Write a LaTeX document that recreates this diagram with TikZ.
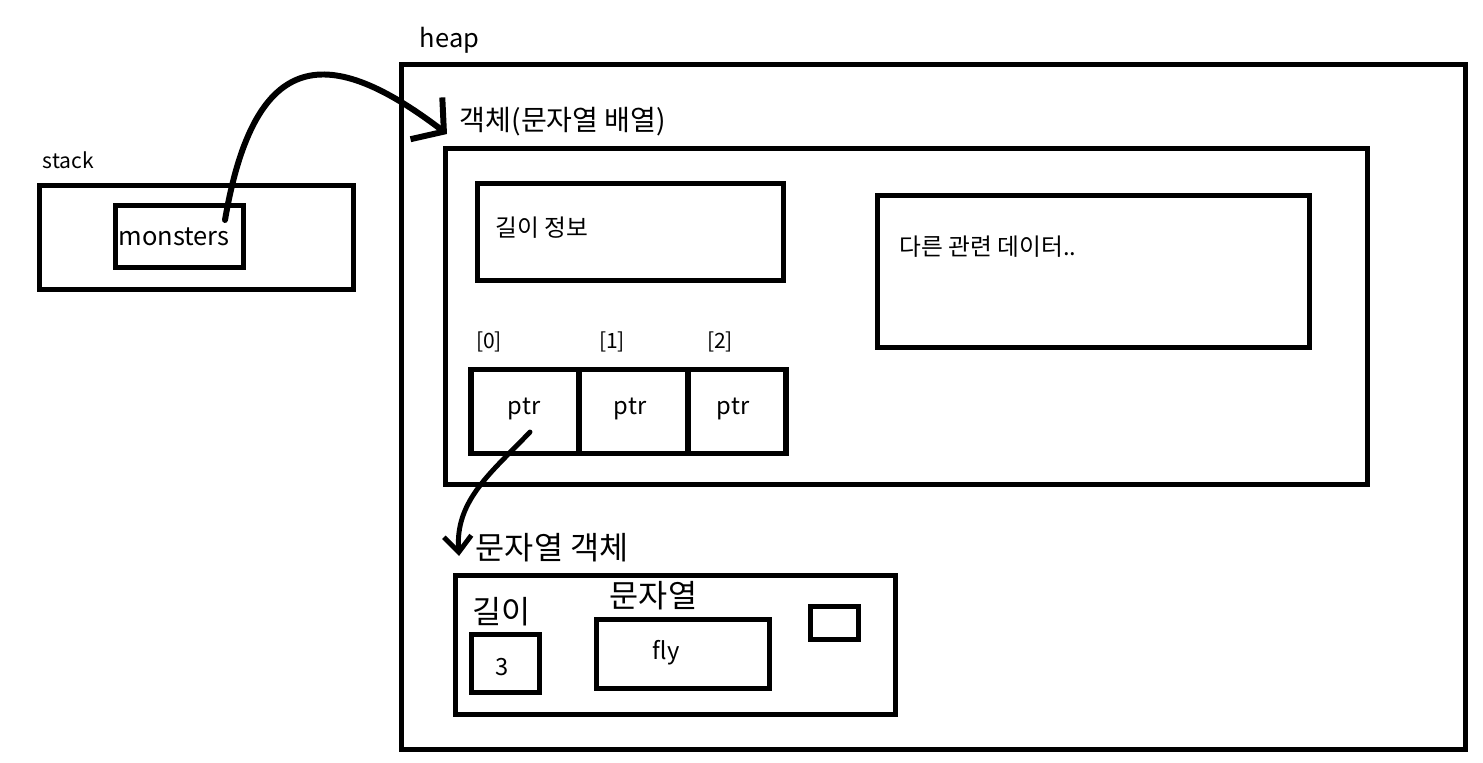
\documentclass[tikz,border=0pt]{standalone}
\usepackage{fontspec}
\setmainfont{Noto Sans CJK KR}
\usetikzlibrary{arrows.meta}

\begin{document}
\begin{tikzpicture}[x=0.02cm,y=-0.02cm,line width=3.2pt,
  box/.style={draw,inner sep=0pt,line join=miter},
  lg/.style={font=\fontsize{18}{20}\selectfont,inner sep=0pt},
  md/.style={font=\fontsize{16}{18}\selectfont,inner sep=0pt},
  reg/.style={font=\fontsize{14.5}{17}\selectfont,inner sep=0pt},
  sm/.style={font=\fontsize{13.5}{16}\selectfont,inner sep=0pt},
  xs/.style={font=\fontsize{12}{14}\selectfont,inner sep=0pt},
  hand/.style={line cap=round,line join=round}]
  \useasboundingbox (0,0) rectangle (1483,763);
  % stack
  \node[xs,anchor=west] (stacklbl) at (40,160) {stack};
  \node[box,minimum width=6.28cm,minimum height=2.08cm] (stack) at (196.5,237.5) {};
  \node[box,minimum width=2.56cm,minimum height=1.24cm] (mon) at (179.5,236.5) {};
  \node[reg] (montxt) at (174,237) {monsters};
  % heap
  \node[reg,anchor=west] (heaplbl) at (417,40) {heap};
  \node[box,minimum width=21.28cm,minimum height=13.7cm] (heap) at (933.5,407) {};
  \node[md,anchor=west] (arrlbl) at (457,122) {객체(문자열 배열)};
  \node[box,minimum width=18.44cm,minimum height=6.72cm] (arr) at (906.5,316.5) {};
  \node[box,minimum width=6.12cm,minimum height=1.94cm] (len) at (630.5,232) {};
  \node[sm,anchor=west] (lentxt) at (493,228) {길이 정보};
  \node[box,minimum width=8.64cm,minimum height=3.04cm] (etc) at (1093.5,271.5) {};
  \node[sm,anchor=west] (etctxt) at (897,247) {다른 관련 데이터..};
  \foreach \x/\i in {489/0,612/1,720/2}
    \node[xs] (idx\i) at (\x,342) {[\i]};
  \node[box,minimum width=2.16cm,minimum height=1.68cm] (p0) at (525,411.5) {};
  \node[box,minimum width=2.18cm,minimum height=1.68cm] (p1) at (633.5,411.5) {};
  \node[box,minimum width=1.96cm,minimum height=1.68cm] (p2) at (737,411.5) {};
  \foreach \i/\x in {0/524,1/630,2/733}
    \node[sm] (ptr\i) at (\x,409) {ptr};
  % string object
  \node[lg,anchor=west] (strlbl) at (473,548) {문자열 객체};
  \node[box,minimum width=8.8cm,minimum height=2.78cm] (str) at (675.5,645) {};
  \node[lg,anchor=west] (sizelbl) at (470,612) {길이};
  \node[box,minimum width=1.36cm,minimum height=1.16cm] (size) at (505.5,663.5) {};
  \node[sm] (sizetxt) at (502,667) {3};
  \node[lg,anchor=west] (charlbl) at (607,596) {문자열};
  \node[box,minimum width=3.46cm,minimum height=1.38cm] (chars) at (683,654) {};
  \node[sm] (flytxt) at (666,653) {fly};
  \node[box,minimum width=0.96cm,minimum height=0.66cm] (term) at (834.5,623) {};
  % pointers
  \coordinate (monref) at (225,220);
  \coordinate (arrtip) at (447,134);
  \coordinate (ptrref) at (530,432);
  \coordinate (strtip) at (459,556);
  \draw[hand,line width=3.4pt,-{Straight Barb[length=4.4mm,width=10.5mm]}]
    (monref) .. controls (255,45) and (330,45) .. (arrtip);
  \draw[hand,line width=2.8pt,-{Straight Barb[length=3.2mm,width=5.5mm]}]
    (ptrref) .. controls (492,472) and (455,500) .. (strtip);
\end{tikzpicture}
\end{document}
